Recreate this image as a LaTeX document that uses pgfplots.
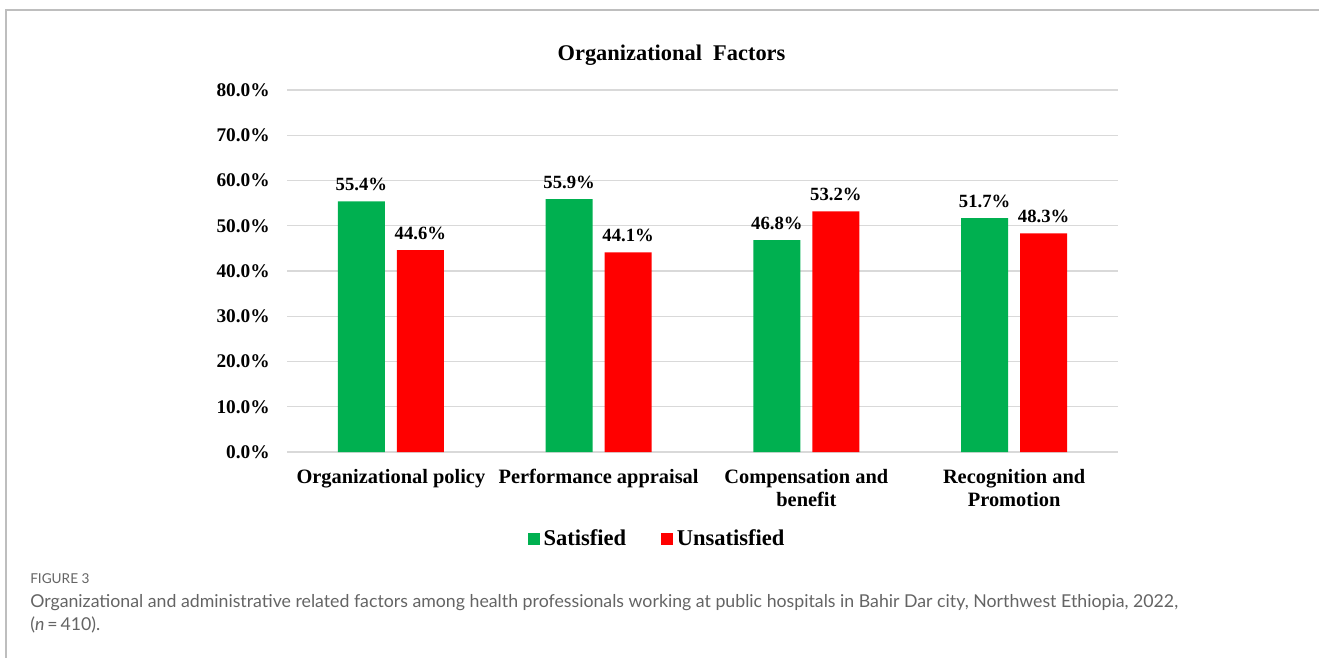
\documentclass[border=0pt]{standalone}
\usepackage{pgfplots}
\pgfplotsset{compat=1.18}
\usepackage{fontspec}
\setmainfont{Liberation Serif}
\newfontfamily\capfont{Lato}
\definecolor{sat}{RGB}{0,176,80}
\definecolor{unsat}{RGB}{255,0,0}
\definecolor{gridc}{RGB}{217,217,217}
\definecolor{framec}{RGB}{190,190,190}
\definecolor{capc}{RGB}{100,100,100}
\begin{document}
\begin{tikzpicture}
\useasboundingbox (0,0) rectangle (989.25pt,492.75pt);
\begin{scope}[x=0.75pt,y=-0.75pt,yshift=492.75pt]
\draw[framec,line width=1.5pt] (6,660) -- (6,10) -- (1322,10);
\node[anchor=base,inner sep=0pt,font=\fontsize{16.8}{20}\selectfont\bfseries] at (671.5,61) {Organizational\ \ Factors};
\node[anchor=base west,inner sep=0pt,text=capc,font=\capfont\fontsize{10.2}{12}\selectfont] at (30,583) {FIGURE 3};
\node[anchor=base west,inner sep=0pt,text=capc,font=\capfont\fontsize{13.3}{16}\selectfont] at (30,607) {Organizational and administrative related factors among health professionals working at public hospitals in Bahir Dar city, Northwest Ethiopia, 2022,};
\node[anchor=base west,inner sep=0pt,text=capc,font=\capfont\fontsize{13.3}{16}\selectfont] at (30,630) {(\textit{n}\,=\,410).};
\end{scope}
\begin{axis}[
  at={(215.25pt,153.75pt)}, anchor=south west,
  scale only axis, width=623.25pt, height=271.5pt,
  xmin=-0.5, xmax=3.5, ymin=0, ymax=80,
  xtick={0,1,2,3},
  xticklabels={Organizational policy,Performance appraisal,{Compensation and\\benefit},{Recognition and\\Promotion}},
  xticklabel style={align=center, anchor=north, inner sep=0pt, yshift=-12.5pt, font=\fontsize{15.3}{17.25}\selectfont\bfseries},
  ytick={0,10,...,80},
  yticklabel={\pgfmathprintnumber[fixed,fixed zerofill,precision=1]{\tick}\%},
  yticklabel style={anchor=east, inner sep=0pt, xshift=-12.75pt, font=\fontsize{14.5}{17.25}\selectfont\bfseries},
  /pgf/number format/assume math mode=true,
  major tick length=0pt,
  axis line style={draw=none},
  ymajorgrids, grid style={gridc, line width=1.1pt},
  clip=false,
  legend columns=2,
  legend style={at={(0.4465,-0.2390)}, anchor=center, draw=none, fill=none,
    font=\fontsize{16.9}{19}\selectfont\bfseries,
    /tikz/every even column/.append style={column sep=23pt},
    nodes={inner sep=3pt}},
  legend image code/.code={\fill[#1] (0pt,-4.5pt) rectangle (9pt,4.5pt);},
  nodes near coords={\pgfmathprintnumber[fixed,fixed zerofill,precision=1]{\pgfplotspointmeta}\%},
]
\addplot[ybar, bar width=35.25pt, bar shift=-22.125pt, fill=sat, draw=none,
  nodes near coords style={anchor=base, inner sep=0pt, xshift=-22.125pt, yshift=8.25pt, font=\fontsize{14}{17}\selectfont\bfseries, text=black}]
  coordinates {(0,55.4) (1,55.9) (2,46.8) (3,51.7)};
\addlegendentry{Satisfied}
\addplot[ybar, bar width=35.25pt, bar shift=22.125pt, fill=unsat, draw=none,
  nodes near coords style={anchor=base, inner sep=0pt, xshift=22.125pt, yshift=8.25pt, font=\fontsize{14}{17}\selectfont\bfseries, text=black}]
  coordinates {(0,44.6) (1,44.1) (2,53.2) (3,48.3)};
\addlegendentry{Unsatisfied}
\end{axis}
\end{tikzpicture}
\end{document}
